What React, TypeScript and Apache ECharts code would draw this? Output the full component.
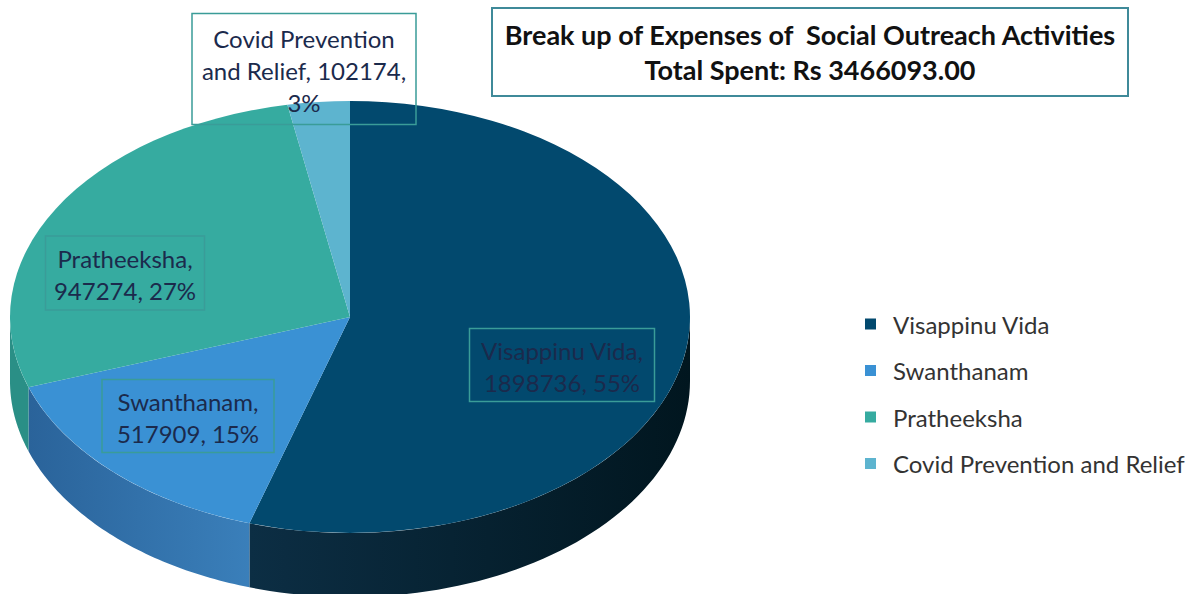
import React, { useEffect, useRef } from 'react';
import * as echarts from 'echarts';

const categories = ['Visappinu Vida', 'Swanthanam', 'Pratheeksha', 'Covid Prevention and Relief'];
const values = [1898736, 517909, 947274, 102174];
const labelTemplates = ['{n},\n{v}, {p}%', '{n},\n{v}, {p}%', '{n},\n{v}, {p}%', 'Covid Prevention\nand Relief, {v},\n{p}%'];
const titleLine = 'Break up of Expenses of  Social Outreach Activities';
const subtitlePrefix = 'Total Spent: Rs ';

const topColors = ['#02496e', '#3a91d4', '#36aba0', '#5db4cf'];
const sideColors = [
  ['#0c2e44', '#01161f'],
  ['#2a639a', '#3a7fba'],
  ['#2a8f86', '#2a8f86'],
  ['#3e8fa8', '#3e8fa8'],
];

const total = values.reduce((a, b) => a + b, 0);

// layout
const CX = 350, CY = 317, RX = 340, RY = 216, DEPTH = 64;
const labelBoxes = [
  { x: 562, y: 365, w: 185, h: 73 },
  { x: 188, y: 416, w: 172, h: 73 },
  { x: 125, y: 273, w: 159, h: 74 },
  { x: 304, y: 69, w: 224, h: 111 },
];

function buildSeries(i: number) {
  const before = values.slice(0, i).reduce((a, b) => a + b, 0);
  const a0 = -Math.PI / 2 + (before / total) * 2 * Math.PI;
  const a1 = a0 + (values[i] / total) * 2 * Math.PI;
  const pct = Math.round((values[i] / total) * 100);
  const text = labelTemplates[i]
    .replace('{n}', categories[i])
    .replace('{v}', String(values[i]))
    .replace('{p}', String(pct));
  return {
    type: 'custom',
    name: categories[i],
    coordinateSystem: 'none',
    data: [values[i]],
    itemStyle: { color: topColors[i] },
    renderItem: () => {
      const children: any[] = [];
      for (let k = -1; k <= 1; k++) {
        const s = Math.max(a0, 2 * Math.PI * k);
        const e = Math.min(a1, Math.PI + 2 * Math.PI * k);
        if (e > s) {
          const n = 60;
          const top: number[][] = [];
          const bot: number[][] = [];
          for (let j = 0; j <= n; j++) {
            const t = s + ((e - s) * j) / n;
            const px = CX + RX * Math.cos(t);
            const py = CY + RY * Math.sin(t);
            top.push([px, py]);
            bot.push([px, py + DEPTH]);
          }
          children.push({
            type: 'polygon',
            shape: { points: top.concat(bot.reverse()) },
            style: {
              fill: new echarts.graphic.LinearGradient(0, 0, 1, 0, [
                { offset: 0, color: sideColors[i][0] },
                { offset: 1, color: sideColors[i][1] },
              ]),
            },
          });
        }
      }
      children.push({
        type: 'group',
        x: CX,
        y: CY,
        scaleY: RY / RX,
        children: [
          {
            type: 'sector',
            shape: { cx: 0, cy: 0, r0: 0, r: RX, startAngle: a0, endAngle: a1, clockwise: true },
            style: { fill: topColors[i] },
          },
        ],
      });
      const b = labelBoxes[i];
      children.push({
        type: 'rect',
        z2: 100,
        shape: { x: b.x - b.w / 2, y: b.y - b.h / 2, width: b.w, height: b.h },
        style: { fill: 'none', stroke: '#3a9c98', lineWidth: 1.5 },
      });
      children.push({
        type: 'text',
        z2: 101,
        x: b.x,
        y: b.y + 1,
        style: {
          text,
          align: 'center',
          verticalAlign: 'middle',
          font: '24px Lato',
          lineHeight: 32,
          fill: '#1b2a4c',
        },
      });
      return { type: 'group', children };
    },
  };
}

export default function App() {
  const ref = useRef<HTMLDivElement>(null);
  useEffect(() => {
    if (!ref.current) return;
    const chart = echarts.init(ref.current, null, { renderer: 'svg' });
    chart.setOption({
      animation: false,
      backgroundColor: '#ffffff',
      legend: {
        data: categories,
        orient: 'vertical',
        left: 860,
        top: 307,
        icon: 'rect',
        itemWidth: 11,
        itemHeight: 11,
        itemGap: 22.5,
        selectedMode: false,
        textStyle: { fontSize: 24, color: '#333', fontFamily: 'Lato', padding: [0, 0, 0, 12] },
      },
      graphic: [
        {
          type: 'rect',
          shape: { x: 492, y: 8, width: 636, height: 88 },
          style: { fill: '#fff', stroke: '#3f8a99', lineWidth: 2 },
        },
        {
          type: 'text',
          x: 810,
          y: 34,
          style: {
            text: titleLine,
            align: 'center',
            verticalAlign: 'middle',
            font: 'bold 27px Lato',
            fill: '#111',
          },
        },
        {
          type: 'text',
          x: 810,
          y: 69,
          style: {
            text: subtitlePrefix + total.toFixed(2),
            align: 'center',
            verticalAlign: 'middle',
            font: 'bold 27px Lato',
            fill: '#111',
          },
        },
      ],
      series: categories.map((_, i) => buildSeries(i)),
    });
    return () => chart.dispose();
  }, []);
  return (
    <div
      ref={ref}
      style={{ position: 'fixed', left: 0, top: 0, width: 1198, height: 594, background: '#fff' }}
    />
  );
}
